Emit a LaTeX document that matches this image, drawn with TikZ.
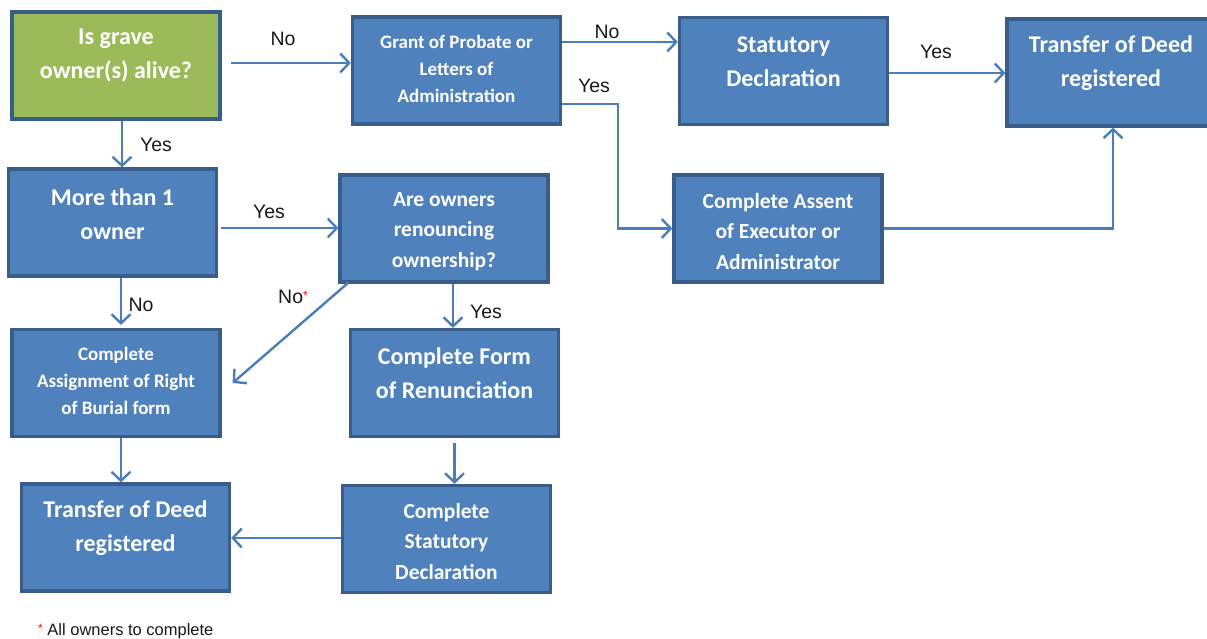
\documentclass[tikz,border=0pt]{standalone}
\usepackage{fontspec}
\setmainfont{Liberation Sans}
\newfontfamily\boxfont{Carlito}
\usetikzlibrary{arrows.meta,calc}
\definecolor{boxfill}{HTML}{4F81BD}
\definecolor{boxline}{HTML}{385D8A}
\definecolor{arrcol}{HTML}{4A7EBB}
\definecolor{greenfill}{HTML}{9BBB59}
\tikzset{
  box/.style={draw=boxline, line width=3.2pt, fill=boxfill, minimum width=208pt, minimum height=107pt, inner sep=0pt},
  gbox/.style={box, fill=greenfill},
  big/.style={text=white, align=center, font={\boxfont\bfseries\fontsize{24}{34}\selectfont}},
  mid/.style={text=white, align=center, font={\boxfont\bfseries\fontsize{21.5}{30.5}\selectfont}},
  small/.style={text=white, align=center, font={\boxfont\bfseries\fontsize{19}{27}\selectfont}},
  arr/.style={draw=arrcol, line width=2.4pt, -{Straight Barb[length=9pt,width=19pt,line width=2.4pt]}},
  lbl/.style={text=black!90, font=\fontsize{19.5}{22}\selectfont, inner sep=0pt}
}
\begin{document}
\begin{tikzpicture}[x=1pt,y=-1pt]
\useasboundingbox (0,0) rectangle (1207,639);
\fill[white] (0,0) rectangle (1207,639);
% boxes
\node[gbox] (green) at (116,65.5) {};
\node[box]  (grant) at (456.5,70.5) {};
\node[box]  (stat)  at (783.5,71) {};
\node[box]  (trtop) at (1111,72.5) {};
\node[box]  (more)  at (112.5,222.5) {};
\node[box]  (are)   at (444,228.5) {};
\node[box]  (assent) at (778,228.5) {};
\node[box]  (assign) at (116,383) {};
\node[box]  (renun) at (454.5,383) {};
\node[box]  (trbot) at (125.5,537.5) {};
\node[box]  (csd)   at (446.5,539) {};
% texts
\node[big]   (greenT) at ([yshift=9.5pt]green.center) {Is grave\\owner(s) alive?};
\node[small] (grantT) at ([yshift=1.5pt]grant.center) {Grant of Probate or\\Letters of\\Administration};
\node[big]   (statT)  at ([yshift=9.5pt]stat.center) {Statutory\\Declaration};
\node[big]   (trtopT) at ([yshift=9.5pt]trtop.center) {Transfer of Deed\\registered};
\node[big]   (moreT)  at ([yshift=8.5pt]more.center) {More than 1\\owner};
\node[mid]   (areT)   at ([yshift=-3pt]are.center) {Are owners\\renouncing\\ownership?};
\node[mid]   (assentT) at ([yshift=-3pt]assent.center) {Complete Assent\\of Executor or\\Administrator};
\node[small] (assignT) at ([yshift=2pt]assign.center) {Complete\\Assignment of Right\\of Burial form};
\node[big]   (renunT) at ([yshift=9.5pt]renun.center) {Complete Form\\of Renunciation};
\node[big]   (trbotT) at ([yshift=9.5pt]trbot.center) {Transfer of Deed\\registered};
\node[mid]   (csdT)   at ([yshift=-2.5pt]csd.center) {Complete\\Statutory\\Declaration};
% connectors
\draw[arr] ([xshift=9pt,yshift=2.5pt]green.east) coordinate (a1) -- (a1 -| grant.west);
\draw[arr] ([yshift=28.5pt]grant.east) coordinate (a2) -- (a2 -| stat.west);
\draw[arr] ([yshift=-33.5pt]grant.east) -- ++(56,0) |- (assent.west);
\draw[arr] ([yshift=-2pt]stat.east) coordinate (a3) -- (a3 -| trtop.west);
\draw[arr] (assent.east) -| ([xshift=2pt]trtop.south);
\draw[arr] ([xshift=6pt]green.south) coordinate (a4) -- (a4 |- more.north);
\draw[arr] ([xshift=3pt,yshift=-5.5pt]more.east) coordinate (a5) -- (a5 -| are.west);
\draw[arr, shorten >=3pt] ([xshift=8.5pt]more.south) coordinate (a6) -- (a6 |- assign.north);
\draw[arr] ([xshift=10pt,yshift=1pt]are.south west) -- ([xshift=11pt]assign.east);
\draw[arr] ([xshift=9pt]are.south) coordinate (a7) -- (a7 |- renun.north);
\draw[arr] ([xshift=5pt]assign.south) coordinate (a8) -- (a8 |- trbot.north);
\draw[arr] ([yshift=-5pt]renun.south) coordinate (a9) -- (a9 |- csd.north);
\draw[arr] ([yshift=1pt]csd.west) coordinate (a10) -- (a10 -| trbot.east);
% labels
\node[lbl] (l1) at (283,39) {No};
\node[lbl] (l2) at (607,32) {No};
\node[lbl] (l3) at (594,86) {Yes};
\node[lbl] (l4) at (936,52) {Yes};
\node[lbl] (l5) at (156,145) {Yes};
\node[lbl] (l6) at (269,212) {Yes};
\node[lbl] (l7) at (141,305) {No};
\node[lbl] (l8) at (293,297) {No\textcolor{red}{\raisebox{4pt}{\fontsize{12}{12}\selectfont *}}};
\node[lbl] (l9) at (486,312) {Yes};
\node[lbl, anchor=west, font=\fontsize{16.5}{18}\selectfont] (foot) at (38,631) {\textcolor{red}{\raisebox{3pt}{\fontsize{12}{12}\selectfont *}} All owners to complete};
\end{tikzpicture}
\end{document}
